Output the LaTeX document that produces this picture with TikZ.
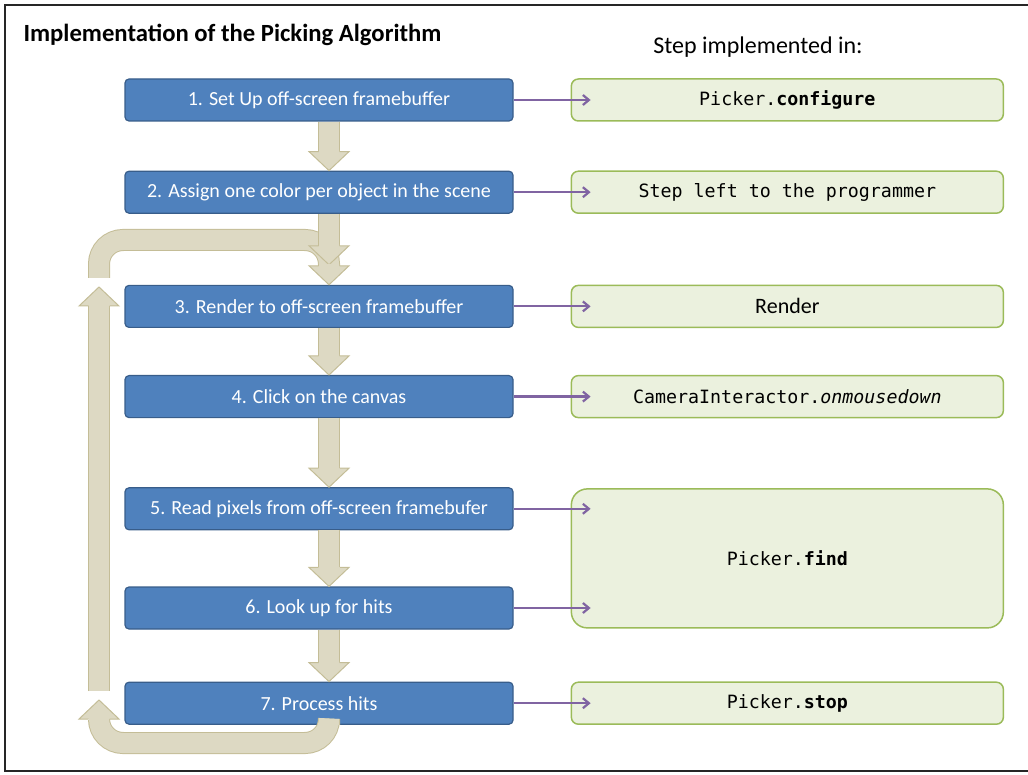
\documentclass[tikz,border=0pt]{standalone}
\usepackage{fontspec}
\setmainfont{Carlito}
\newfontfamily\codefont{DejaVu Sans Mono}[ItalicFont={DejaVu Sans Mono Oblique}]
\usetikzlibrary{arrows.meta,positioning,calc}
\definecolor{stepblue}{HTML}{4F81BD}
\definecolor{stepedge}{HTML}{385D8A}
\definecolor{implfill}{HTML}{EBF1DE}
\definecolor{impledge}{HTML}{9BBB59}
\definecolor{bandfill}{HTML}{DDD9C3}
\definecolor{bandedge}{HTML}{C4BD97}
\definecolor{linkpurple}{HTML}{8064A2}

\begin{document}
\begin{tikzpicture}[x=1pt, y=1pt,
  stepbox/.style={draw=stepedge, line width=1.2pt, fill=stepblue, rounded corners=4pt, minimum width=388pt, minimum height=42pt, text=white, font=\fontsize{20}{24}\selectfont},
  impl/.style={draw=impledge, line width=1.5pt, fill=implfill, rounded corners=7pt, minimum width=432pt, minimum height=42pt, font=\codefont\fontsize{18.3}{21}\selectfont},
  link/.style={-{Straight Barb[length=6pt,width=10pt]}, draw=linkpurple, line width=2.2pt},
  band/.style={draw=bandedge, line width=1pt, double=bandfill, double distance=20pt},
  downhead/.pic={\fill[bandfill] (-10,21) -- (-10,19) -- (-20,19) -- (0,0) -- (20,19) -- (10,19) -- (10,21) -- cycle;
    \draw[bandedge, line width=1pt] (-10.5,19) -- (-20,19) -- (0,0) -- (20,19) -- (10.5,19);}]
% frame and headings
\useasboundingbox (0,0) rectangle (1028,-775);
\draw[line width=1.5pt, black!85] (5,-5) rectangle (1040,-771);
\node[anchor=west, font=\bfseries\fontsize{24.7}{29}\selectfont] (title) at (20,-35) {Implementation of the Picking Algorithm};
\node[font=\fontsize{24}{28}\selectfont] (head) at (758,-47) {Step implemented in:};
% steps
\node[stepbox] (b1) at (319,-100) {1. Set Up off-screen framebuffer};
\node[stepbox, below=49pt of b1] (b2) {2. Assign one color per object in the scene};
\node[stepbox, below=71pt of b2] (b3) {3. Render to off-screen framebuffer};
\node[stepbox, below=47pt of b3] (b4) {4. Click on the canvas};
\node[stepbox, below=69pt of b4] (b5) {5. Read pixels from off-screen framebufer};
\node[stepbox, below=56pt of b5] (b6) {6. Look up for hits};
\node[stepbox, below=52pt of b6] (b7) {7. Process hits};
% implementations
\node[impl, right=57pt of b1] (g1) {Picker.\textbf{configure}};
\node[impl, right=57pt of b2] (g2) {Step left to the programmer};
\node[impl, right=57pt of b3, font=\fontsize{22}{26}\selectfont] (g3) {Render};
\node[impl, right=57pt of b4] (g4) {CameraInteractor.\textit{onmousedown}};
\node[impl, minimum height=139pt, rounded corners=16pt, anchor=west] (g5) at ($(b5.east)!0.5!(b6.east)+(57,0)$) {Picker.\textbf{find}};
\node[impl, right=57pt of b7] (g7) {Picker.\textbf{stop}};
% loop back from 7 to 3
\coordinate (in3) at ([xshift=10pt]b3.north);
\coordinate (out7) at ([xshift=10pt]b7.south);
\coordinate (bl) at (99,-743);
\coordinate (tl) at (99,-240);
\coordinate (up1) at (99,-700);
\coordinate (up2) at (99,-287);
\draw[band, rounded corners=24pt] (out7) |- (bl) -- ([yshift=-19pt]up1);
\draw[band] ([yshift=9pt]up1) -- ([yshift=-19pt]up2);
\pic[rotate=180] at (up1) {downhead};
\draw[band, rounded corners=24pt] ([yshift=9pt]up2) -- (tl) -- (tl -| in3) -- ([yshift=19pt]in3);
\pic[rotate=180] at (up2) {downhead};
% step flow
\foreach \a/\b in {b1/b2,b3/b4,b4/b5,b5/b6,b6/b7} {
  \draw[band] ([xshift=10pt]\a.south) -- ([xshift=10pt,yshift=19pt]\b.north);
  \pic at ([xshift=10pt]\b.north) {downhead};
}
\draw[band] ([xshift=10pt]b2.south) -- ([xshift=10pt,yshift=39pt]b3.north);
\pic at ([xshift=10pt,yshift=20pt]b3.north) {downhead};
\pic at (in3) {downhead};
% links to implementations
\foreach \n in {1,2,3,4,7}
  \draw[link] (b\n.east) -- ([xshift=20pt]g\n.west);
\coordinate (fx) at ([xshift=20pt]g5.west);
\draw[link] (b5.east) -- (fx |- b5.east);
\draw[link] (b6.east) -- (fx |- b6.east);
\end{tikzpicture}
\end{document}
